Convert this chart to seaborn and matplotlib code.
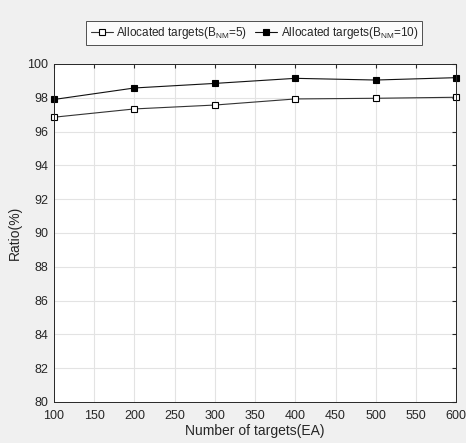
import matplotlib
matplotlib.use("Agg")
import matplotlib.pyplot as plt
import seaborn as sns
import pandas as pd

targets = [100, 200, 300, 400, 500, 600]
ratio_bnm5 = [96.85, 97.34, 97.57, 97.93, 97.97, 98.03]
ratio_bnm10 = [97.9, 98.58, 98.85, 99.15, 99.05, 99.19]
labels = ['Allocated targets(B$_{\\mathregular{NM}}$=5)',
          'Allocated targets(B$_{\\mathregular{NM}}$=10)']

df = pd.DataFrame({
    'Targets': targets * 2,
    'Ratio': ratio_bnm5 + ratio_bnm10,
    'Series': [labels[0]] * len(targets) + [labels[1]] * len(targets),
})

sns.set_style('white')
plt.rcParams['font.family'] = ['Liberation Sans', 'DejaVu Sans']
plt.rcParams['mathtext.fontset'] = 'custom'
plt.rcParams['mathtext.rm'] = 'Liberation Sans'

fig = plt.figure(figsize=(4.66, 4.43), dpi=100, facecolor='#f0f0f0')
ax = fig.add_axes([0.116, 0.0926, 0.863, 0.763])

sns.lineplot(data=df, x='Targets', y='Ratio', hue='Series', style='Series',
             palette=['#333333', '#111111'], markers=['s', 's'], dashes=False,
             linewidth=0.8, markersize=5, ax=ax, legend=False)
lines = ax.get_lines()
lines[0].set_markerfacecolor('white')
lines[0].set_markeredgecolor('black')
lines[1].set_markerfacecolor('black')
lines[1].set_markeredgecolor('black')
for ln in lines:
    ln.set_markeredgewidth(0.8)
    ln.set_clip_on(False)

ax.set_xlim(100, 600)
ax.set_ylim(80, 100)
ax.set_xticks(range(100, 601, 50))
ax.set_yticks(range(80, 101, 2))
ax.grid(True, color='#e3e3e3', linewidth=0.8)
ax.tick_params(direction='in', length=3, labelsize=9, colors='#262626',
               top=True, right=True)
ax.tick_params(axis='x', pad=6)
ax.tick_params(axis='y', pad=4)
for s in ax.spines.values():
    s.set_color('#262626')
    s.set_linewidth(0.7)
ax.set_xlabel('Number of targets(EA)', fontsize=10, color='#262626', labelpad=1)
ax.set_ylabel('Ratio(%)', fontsize=10, color='#262626', labelpad=4)

leg = fig.legend(lines, labels, loc='center', bbox_to_anchor=(0.546, 0.925),
                 ncol=2, fontsize=8.5, frameon=True, fancybox=False,
                 handlelength=1.9, columnspacing=0.6, handletextpad=0.3,
                 borderpad=0.35, borderaxespad=0, edgecolor='#262626')
leg.get_frame().set_linewidth(0.7)

fig.savefig('out.png', dpi=100, facecolor=fig.get_facecolor())
